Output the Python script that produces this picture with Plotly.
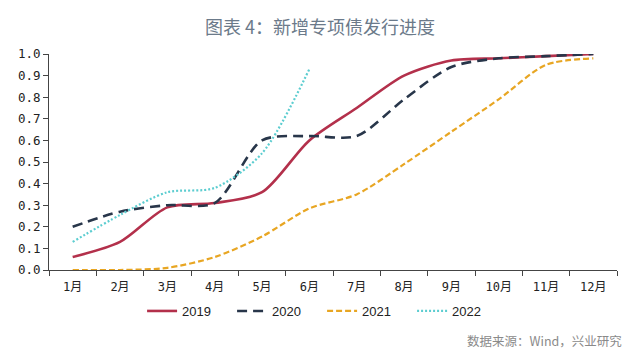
import plotly.graph_objects as go

months = ["1月", "2月", "3月", "4月", "5月", "6月", "7月", "8月", "9月", "10月", "11月", "12月"]
y2019 = [0.06, 0.13, 0.29, 0.31, 0.36, 0.60, 0.75, 0.90, 0.97, 0.98, 0.99, 1.00]
y2020 = [0.20, 0.27, 0.30, 0.31, 0.60, 0.62, 0.62, 0.79, 0.94, 0.98, 0.99, 1.00]
y2021 = [0.00, 0.00, 0.01, 0.06, 0.155, 0.285, 0.35, 0.49, 0.64, 0.79, 0.95, 0.98]
y2022 = [0.13, 0.255, 0.36, 0.38, 0.54, 0.93]
series_names = ["2019", "2020", "2021", "2022"]
y_ticks = [0.0, 0.1, 0.2, 0.3, 0.4, 0.5, 0.6, 0.7, 0.8, 0.9, 1.0]

colors = ["#b3304b", "#28364a", "#e8a623", "#5ccdd0"]
dashes = ["solid", "10px,6px", "6px,3px", "2px,2px"]
widths = [2.6, 2.6, 2.2, 2.2]
data = [y2019, y2020, y2021, y2022]

tick_font = "DejaVu Sans Mono, Noto Sans CJK SC, sans-serif"

fig = go.Figure()
for name, ys, c, d, w in zip(series_names, data, colors, dashes, widths):
    fig.add_trace(go.Scatter(
        x=months[:len(ys)], y=ys, name=name, mode="lines",
        line=dict(color=c, dash=d, width=w, shape="spline", smoothing=0.8),
    ))

fig.update_layout(
    width=640, height=355,
    margin=dict(l=49, r=23, t=54, b=85, autoexpand=False),
    paper_bgcolor="white", plot_bgcolor="white",
    showlegend=True,
    legend=dict(
        orientation="h", xref="container", yref="container",
        x=0.222, xanchor="left", y=1 - 311 / 355, yanchor="middle",
        entrywidth=45, entrywidthmode="pixels",
        font=dict(family="Liberation Sans, Noto Sans CJK SC, sans-serif", size=13, color="#222"),
        itemwidth=30,
    ),
    title=dict(
        text="图表 4：新增专项债发行进度",
        x=0.5, xanchor="center", y=1 - 28 / 355, yanchor="middle",
        font=dict(family="Noto Sans CJK SC, sans-serif", size=18, color="#6b7a8a"),
    ),
    annotations=[dict(
        text="数据来源：Wind，兴业研究", xref="paper", yref="paper",
        x=(624 - 49) / 568, xanchor="right", y=-(340 - 270) / 216, yanchor="middle",
        showarrow=False,
        font=dict(family="Noto Sans CJK SC, sans-serif", size=12.5, color="#8a8a8a"),
    )],
)

fig.update_xaxes(
    type="category", categoryorder="array", categoryarray=months,
    range=[-0.5, 11.5], tickson="boundaries", automargin=False,
    showline=True, linecolor="#444", linewidth=1,
    ticks="outside", ticklen=5, tickcolor="#444", ticklabelstandoff=6,
    showgrid=False, zeroline=False,
    tickfont=dict(family=tick_font, size=12, color="#222"),
)
fig.update_yaxes(
    range=[0, 1.0], tickvals=y_ticks, tickformat=".1f", automargin=False,
    showline=True, linecolor="#444", linewidth=1,
    ticks="outside", ticklen=5, tickcolor="#444",
    showgrid=False, zeroline=False,
    tickfont=dict(family=tick_font, size=12.5, color="#222"),
)

fig.write_html("out.html", config={"displayModeBar": False},
               post_script="document.body.style.margin='0';")
